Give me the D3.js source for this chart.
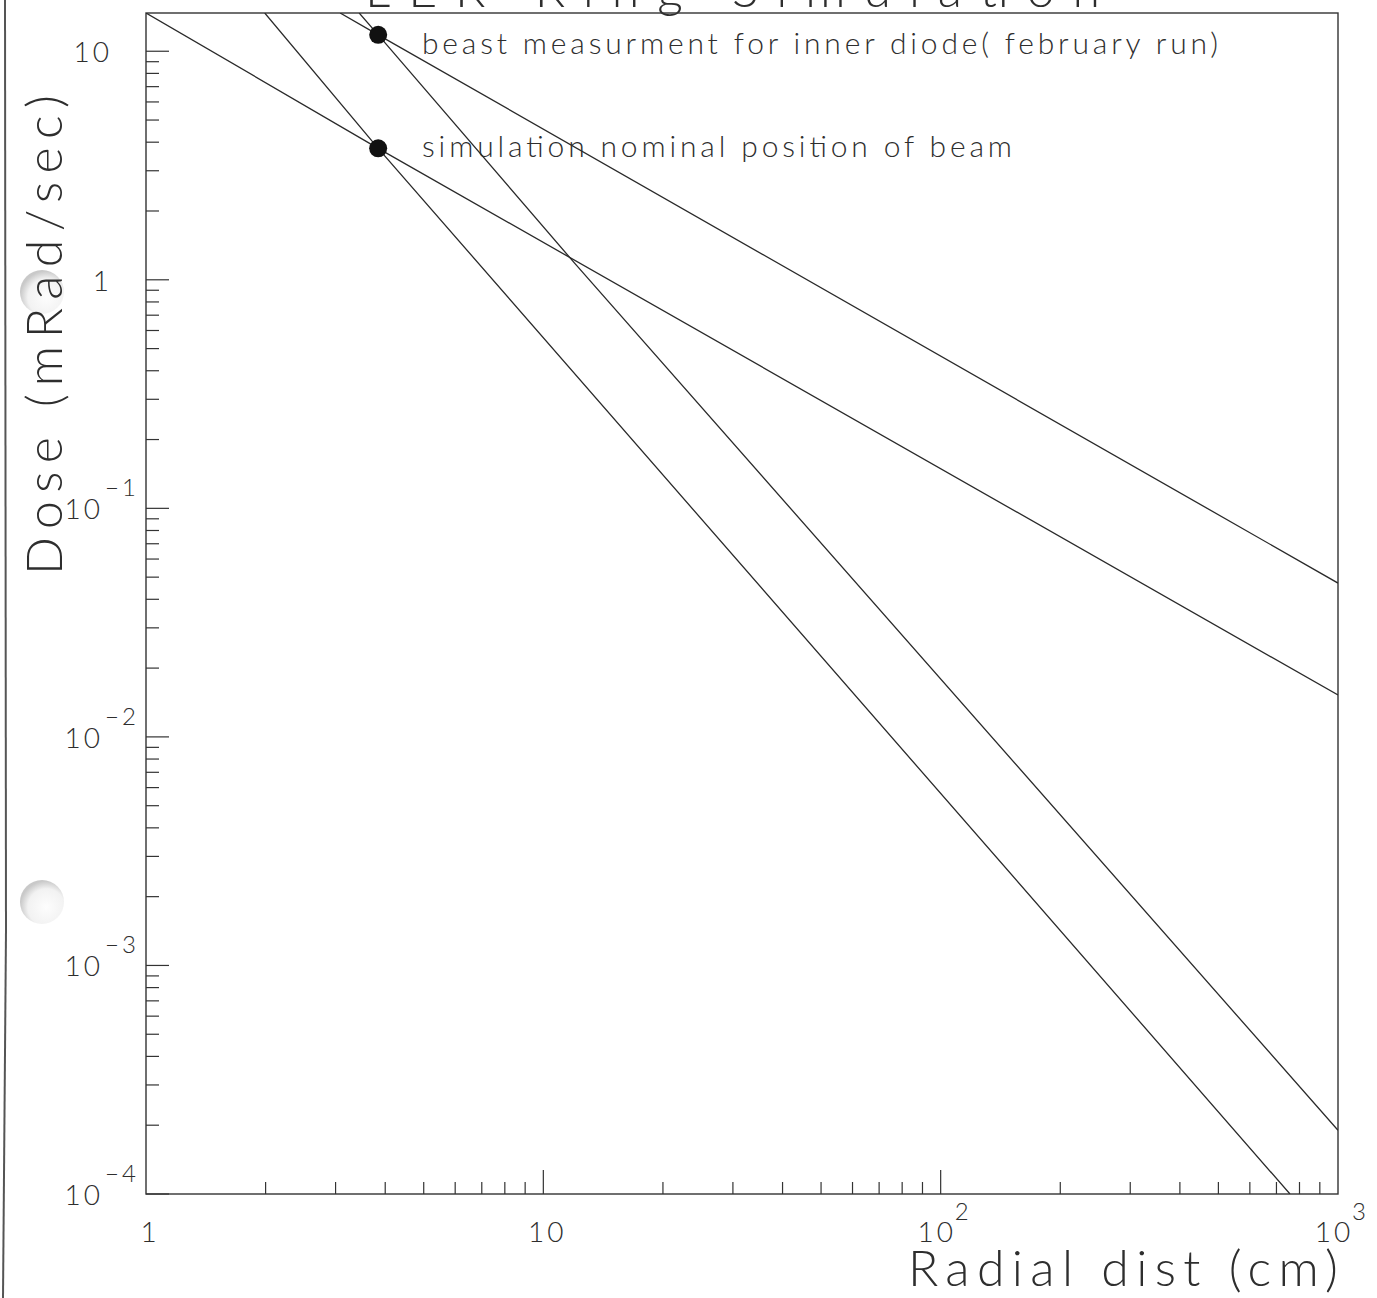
<!DOCTYPE html>
<html>
<head>
<meta charset="utf-8">
<script src="https://cdn.jsdelivr.net/npm/d3@7"></script>
<style>
  html, body { margin: 0; padding: 0; background: #ffffff; }
  svg { display: block; }
  text { font-family: "Lato", "Open Sans", sans-serif; font-weight: 300; fill: #2e2e2e; }
</style>
</head>
<body>
<svg id="chart" width="1377" height="1298"></svg>
<script>
// Radial dependence of the dose: radius in cm, dose in mRad/sec.
const titleText = "LER Ring Simulation";
const xTitle = "Radial dist (cm)";
const yTitle = "Dose (mRad/sec)";

// 1/r scaling through the simulated point
const simInvR = [[1, 14.7], [3.84, 3.76], [1000, 0.01525]];
// 1/r scaling through the measured point
const beastInvR = [[3.08, 14.7], [3.84, 11.8], [1000, 0.0471]];
// 1/r^2 scaling through the simulated point
const simInvR2 = [[1.99, 14.7], [3.84, 3.76], [757, 1e-4]];
// 1/r^2 scaling through the measured point
const beastInvR2 = [[3.44, 14.7], [3.84, 11.8], [12.0, 1.18], [1000, 1.9e-4]];

// marked points and their captions
const markerR = [3.84, 3.84];
const markerDose = [11.8, 3.76];
const markerLabels = ["beast measurment for inner diode( february run)",
                      "simulation nominal position of beam"];

// axis ticks
const xMajor = [1, 10, 100, 1000];
const xMajorLabels = [["1", ""], ["10", ""], ["10", "2"], ["10", "3"]];
const yMajor = [10, 1, 0.1, 0.01, 0.001, 0.0001];
const yMajorLabels = [["10", ""], ["1", ""], ["10", "\u22121"], ["10", "\u22122"], ["10", "\u22123"], ["10", "\u22124"]];
const minorMult = [2, 3, 4, 5, 6, 7, 8, 9];

const svg = d3.select("#chart");
const W = 1377, H = 1298;
const plot = { left: 146, right: 1338, top: 13, bottom: 1194 };

const x = d3.scaleLog().domain([1, 1000]).range([plot.left, plot.right]);
const y = d3.scaleLog().domain([1e-4, 14.7]).range([plot.bottom, plot.top]);

const ink = "#2a2a2a";

// sheet edge and punched holes
svg.append("line").attr("x1", 5).attr("y1", 0).attr("x2", 6).attr("y2", 930)
  .attr("stroke", "#555").attr("stroke-width", 2);
svg.append("line").attr("x1", 6).attr("y1", 930).attr("x2", 3).attr("y2", H)
  .attr("stroke", "#555").attr("stroke-width", 2);
const defs = svg.append("defs");
const grad = defs.append("radialGradient").attr("id", "hole")
  .attr("cx", "60%").attr("cy", "62%").attr("r", "60%");
grad.append("stop").attr("offset", "0%").attr("stop-color", "#fdfdfd");
grad.append("stop").attr("offset", "70%").attr("stop-color", "#f2f2f2");
grad.append("stop").attr("offset", "100%").attr("stop-color", "#c9c9c9");
[[42, 292, 22], [42, 902, 22]].forEach(([cx, cy, r]) => {
  svg.append("circle").attr("cx", cx).attr("cy", cy).attr("r", r).attr("fill", "url(#hole)");
});

defs.append("clipPath").attr("id", "plotclip").append("rect")
  .attr("x", plot.left).attr("y", plot.top)
  .attr("width", plot.right - plot.left).attr("height", plot.bottom - plot.top);

// title, mostly above the sheet
svg.append("text").attr("x", 365).attr("y", 7)
  .attr("font-size", 50).attr("textLength", 735).attr("lengthAdjust", "spacing")
  .text(titleText);

// frame
svg.append("rect")
  .attr("x", plot.left).attr("y", plot.top)
  .attr("width", plot.right - plot.left).attr("height", plot.bottom - plot.top)
  .attr("fill", "none").attr("stroke", "#333").attr("stroke-width", 1.4);

// y ticks (left side, pointing inward)
const yMinor = [];
for (let e = -4; e <= 1; e++) minorMult.forEach(m => {
  const v = m * Math.pow(10, e);
  if (v > 1e-4 && v < 14.7) yMinor.push(v);
});
const gy = svg.append("g").attr("stroke", "#333").attr("stroke-width", 1.2);
gy.selectAll("line.mn").data(yMinor).join("line")
  .attr("x1", plot.left).attr("x2", plot.left + 13)
  .attr("y1", d => y(d)).attr("y2", d => y(d));
gy.selectAll("line.mj").data(yMajor).join("line")
  .attr("x1", plot.left).attr("x2", plot.left + 23)
  .attr("y1", d => y(d)).attr("y2", d => y(d));

// x ticks (bottom, pointing up)
const xMinor = [];
for (let e = 0; e < 3; e++) minorMult.forEach(m => xMinor.push(m * Math.pow(10, e)));
const gx = svg.append("g").attr("stroke", "#333").attr("stroke-width", 1.2);
gx.selectAll("line.mn").data(xMinor).join("line")
  .attr("x1", d => x(d)).attr("x2", d => x(d))
  .attr("y1", plot.bottom).attr("y2", plot.bottom - 12);
gx.selectAll("line.mj").data(xMajor.slice(1, 3)).join("line")
  .attr("x1", d => x(d)).attr("x2", d => x(d))
  .attr("y1", plot.bottom).attr("y2", plot.bottom - 24);

// y tick labels
yMajor.forEach((v, i) => {
  const [base, sup] = yMajorLabels[i];
  const yy = y(v);
  if (sup === "") {
    svg.append("text").attr("x", 112).attr("y", yy + 11)
      .attr("font-size", 28).attr("text-anchor", "end").attr("letter-spacing", 3).text(base);
  } else {
    svg.append("text").attr("x", 103).attr("y", yy + 11)
      .attr("font-size", 28).attr("text-anchor", "end").attr("letter-spacing", 3).text(base);
    svg.append("text").attr("x", 105).attr("y", yy - 12)
      .attr("font-size", 24).attr("letter-spacing", 3).text(sup);
  }
});

// x tick labels
xMajor.forEach((v, i) => {
  const [base, sup] = xMajorLabels[i];
  const xx = x(v);
  if (sup === "") {
    svg.append("text").attr("x", xx + 4).attr("y", 1242)
      .attr("font-size", 28).attr("text-anchor", "middle").attr("letter-spacing", 3).text(base);
  } else {
    svg.append("text").attr("x", xx - 4).attr("y", 1242)
      .attr("font-size", 28).attr("text-anchor", "middle").attr("letter-spacing", 3).text(base);
    svg.append("text").attr("x", xx + 14).attr("y", 1220)
      .attr("font-size", 24).text(sup);
  }
});

// axis titles
svg.append("text").attr("x", 908).attr("y", 1286)
  .attr("font-size", 50).attr("textLength", 430).attr("lengthAdjust", "spacing")
  .text(xTitle);
svg.append("text")
  .attr("transform", "translate(62,575) rotate(-90)")
  .attr("font-size", 50).attr("textLength", 480).attr("lengthAdjust", "spacing")
  .text(yTitle);

// scaling lines
const line = d3.line().x(d => x(d[0])).y(d => y(d[1]));
const gl = svg.append("g").attr("clip-path", "url(#plotclip)");
[simInvR, beastInvR, simInvR2, beastInvR2].forEach(s => {
  gl.append("path").datum(s).attr("d", line)
    .attr("fill", "none").attr("stroke", ink).attr("stroke-width", 1.3);
});

// markers
svg.selectAll("circle.pt").data(markerR).join("circle")
  .attr("class", "pt")
  .attr("cx", d => x(d)).attr("cy", (d, i) => y(markerDose[i]))
  .attr("r", 9).attr("fill", "#111");

// marker captions
const capW = [796, 590];
markerLabels.forEach((t, i) => {
  svg.append("text").attr("x", 422).attr("y", y(markerDose[i]) + (i === 0 ? 19 : 9))
    .attr("font-size", 30).attr("textLength", capW[i]).attr("lengthAdjust", "spacing")
    .text(t);
});
</script>
</body>
</html>
